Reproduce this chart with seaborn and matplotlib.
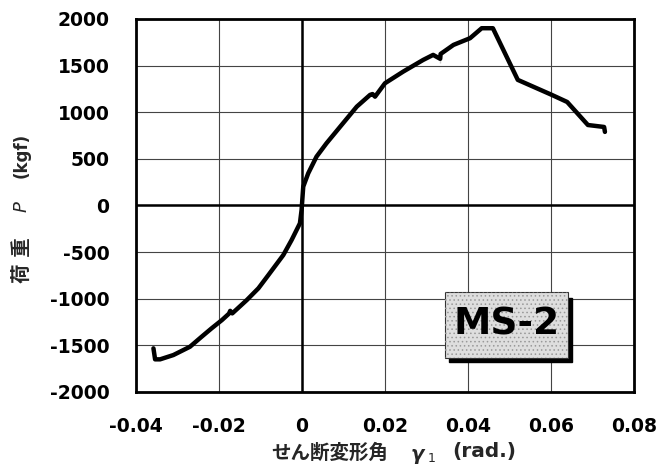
import numpy as np
import pandas as pd
import matplotlib
matplotlib.use("Agg")
import matplotlib.pyplot as plt
import seaborn as sns
from matplotlib.patches import Rectangle

# せん断変形角 γ1 (rad.) と 荷重 P (kgf) -- 図から読み取った値
gamma = [-0.0358, -0.0354, -0.0342, -0.0310, -0.0270, -0.0242, -0.0218, -0.0193,
         -0.0176, -0.0173, -0.0168, -0.0133, -0.0105, -0.0081, -0.0045, -0.0025,
         -0.0005, -0.0001, 0.0003, 0.0015, 0.0035, 0.0059, 0.0092, 0.0132,
         0.0164, 0.0170, 0.0176, 0.0200, 0.0244, 0.0292, 0.0316, 0.0333,
         0.0333, 0.0334, 0.0365, 0.0405, 0.0433, 0.0460, 0.0520, 0.0602,
         0.0639, 0.0689, 0.0728, 0.0730]
load = [-1532, -1650, -1650, -1604, -1515, -1408, -1318, -1229,
        -1160, -1130, -1157, -1014, -888, -746, -531, -370,
        -191, -48, 202, 345, 524, 667, 845, 1060,
        1186, 1195, 1167, 1311, 1436, 1561, 1615, 1620,
        1526, 1625, 1722, 1794, 1901, 1901, 1347, 1186,
        1110, 863, 842, 789]

xticks = [-0.04, -0.02, 0, 0.02, 0.04, 0.06, 0.08]
xticklabels = ["-0.04", "-0.02", "0", "0.02", "0.04", "0.06", "0.08"]
yticks = [-2000, -1500, -1000, -500, 0, 500, 1000, 1500, 2000]

df = pd.DataFrame({"gamma": gamma, "P": load})

sns.set_theme(style="white")
plt.rcParams["font.family"] = ["DejaVu Sans", "Noto Sans CJK JP"]
plt.rcParams["axes.unicode_minus"] = False
plt.rcParams["hatch.linewidth"] = 0.6

fig = plt.figure(figsize=(6.58, 4.70), dpi=100)
ax = fig.add_axes([0.2067, 0.166, 0.7568, 0.7936])

sns.lineplot(data=df, x="gamma", y="P", sort=False, color="black", lw=3.2, ax=ax)

ax.set_xlim(-0.04, 0.08)
ax.set_ylim(-2000, 2000)
ax.set_xticks(xticks)
ax.set_xticklabels(xticklabels)
ax.set_yticks(yticks)
ax.tick_params(axis="both", length=0, labelsize=13.5, colors="black")
ax.tick_params(axis="x", pad=18)
ax.tick_params(axis="y", pad=19)
for lab in ax.get_xticklabels() + ax.get_yticklabels():
    lab.set_fontweight("bold")

ax.grid(True, color="#444444", lw=0.8)
ax.axhline(0, color="black", lw=1.8, zorder=1)
ax.axvline(0, color="black", lw=1.8, zorder=1)
for s in ax.spines.values():
    s.set_color("black")
    s.set_linewidth(2)
ax.set_xlabel("")
ax.set_ylabel("")

# MS-2 ラベルボックス（影付き）
ax.add_patch(Rectangle((0.628, 0.081), 0.247, 0.170, transform=ax.transAxes,
                       fc="black", ec="black", zorder=4))
ax.add_patch(Rectangle((0.620, 0.091), 0.247, 0.177, transform=ax.transAxes,
                       fc="#dedede", ec="#333333", lw=0.8, zorder=5))
ax.add_patch(Rectangle((0.620, 0.091), 0.247, 0.177, transform=ax.transAxes,
                       fill=False, ec="#999999", lw=0, hatch="....", zorder=5))
ax.text(0.745, 0.18, "MS-2", transform=ax.transAxes, ha="center", va="center",
        fontsize=27, fontweight="bold", color="black", zorder=6)

# 軸ラベル
fig.text(22 / 658, 1 - 260 / 470, "荷 重", rotation=90, ha="center", va="center",
         fontsize=14, fontweight="bold")
fig.text(22 / 658, 1 - 207 / 470, "P", rotation=90, ha="center", va="center",
         fontsize=13, style="italic")
fig.text(22 / 658, 1 - 155 / 470, "(kgf)", rotation=90, ha="center", va="center",
         fontsize=12, fontweight="bold")

fig.text(330 / 658, 1 - 453 / 470, "せん断変形角", ha="center", va="center",
         fontsize=14, fontweight="bold")
fig.text(417 / 658, 1 - 455 / 470, "γ", ha="center", va="center",
         fontsize=14, fontweight="bold", style="italic")
fig.text(432 / 658, 1 - 459 / 470, "1", ha="center", va="center", fontsize=9)
fig.text(484 / 658, 1 - 452 / 470, "(rad.)", ha="center", va="center",
         fontsize=14.5, fontweight="bold")

fig.savefig("out.png", dpi=100, facecolor="white")
